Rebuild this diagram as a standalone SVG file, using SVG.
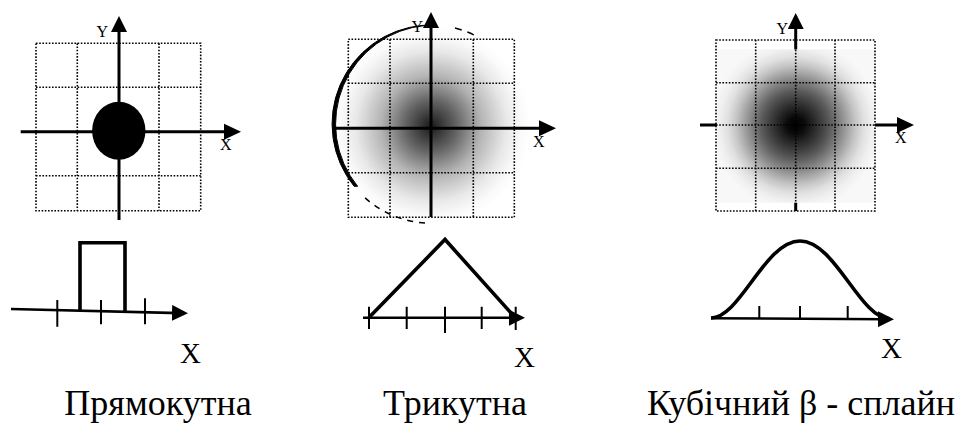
<svg xmlns="http://www.w3.org/2000/svg" width="968" height="423" viewBox="0 0 968 423">
  <style>
    .grid { stroke: #000; stroke-width: 1.6; stroke-dasharray: 1.6 1.6; fill: none; }
    .axis { stroke: #000; stroke-width: 3; fill: none; }
    .axisb { stroke: #000; stroke-width: 2.6; fill: none; }
    .tick { stroke: #000; stroke-width: 2; }
    .curve { stroke: #000; stroke-width: 3.6; fill: none; stroke-linejoin: miter; }
    text { font-family: "Liberation Serif", "Times New Roman", "DejaVu Serif", serif; fill: #000; }
    .small { font-size: 16px; }
    .xbig { font-size: 29px; }
    .cap { font-size: 36px; text-anchor: middle; }
  </style>
  <defs>
    <marker id="arr" markerUnits="userSpaceOnUse" markerWidth="17" markerHeight="17" refX="8" refY="8" orient="auto" viewBox="0 0 17 16">
      <path d="M0,0 L17,8 L0,16 z" fill="#000"/>
    </marker>
    <marker id="arrs" markerUnits="userSpaceOnUse" markerWidth="16" markerHeight="16" refX="8" refY="8" orient="auto" viewBox="0 0 16 16">
      <path d="M0,0 L16,8 L0,16 z" fill="#000"/>
    </marker>
    <radialGradient id="gTri" cx="431" cy="126" r="100" gradientUnits="userSpaceOnUse">
      <stop offset="0" stop-color="#1a1a1a"/>
      <stop offset="0.25" stop-color="#626262"/>
      <stop offset="0.5" stop-color="#b4b4b4"/>
      <stop offset="0.75" stop-color="#e8e8e8"/>
      <stop offset="0.9" stop-color="#fafafa"/>
      <stop offset="1" stop-color="#ffffff"/>
    </radialGradient>
    <radialGradient id="gBsp" cx="795.7" cy="125" r="85" gradientUnits="userSpaceOnUse">
      <stop offset="0" stop-color="#000"/>
      <stop offset="0.1" stop-color="#0a0a0a"/>
      <stop offset="0.2" stop-color="#242424"/>
      <stop offset="0.3" stop-color="#3e3e3e"/>
      <stop offset="0.4" stop-color="#5a5a5a"/>
      <stop offset="0.5" stop-color="#7c7c7c"/>
      <stop offset="0.6" stop-color="#a0a0a0"/>
      <stop offset="0.7" stop-color="#c4c4c4"/>
      <stop offset="0.8" stop-color="#e0e0e0"/>
      <stop offset="0.9" stop-color="#f0f0f0"/>
      <stop offset="1" stop-color="#f8f8f8"/>
    </radialGradient>
  </defs>
  <rect x="0" y="0" width="968" height="423" fill="#fff"/>

  <!-- Panel 1: rectangular filter -->
  <g id="rect-filter-2d">
    <rect class="grid" x="36" y="43.3" width="164.7" height="167.4"/>
    <path class="grid" d="M77.3,43.3 V210.7 M159,43.3 V210.7 M36,87.3 H200.7 M36,175.7 H200.7"/>
    <line class="axis" x1="20.7" y1="131.7" x2="232" y2="131.7" marker-end="url(#arr)"/>
    <line class="axis" x1="119" y1="220" x2="119" y2="24" marker-end="url(#arrs)"/>
    <ellipse cx="118.8" cy="130.8" rx="26.7" ry="29" fill="#000"/>
    <text class="small" x="96.5" y="36.5">Y</text>
    <text class="small" x="220" y="150">X</text>
  </g>
  <g id="rect-filter-1d">
    <line class="axisb" x1="11" y1="309" x2="180" y2="313.1" marker-end="url(#arrs)"/>
    <path class="tick" d="M57.3,300 V326.7 M101,300 V324.3 M145,298.3 V324.3"/>
    <polyline class="curve" points="80,311 80,242.7 125,242.7 125,311.8"/>
    <text class="xbig" x="180" y="363.3">X</text>
    <text class="cap" x="158" y="415">Прямокутна</text>
  </g>

  <!-- Panel 2: triangular filter -->
  <g id="tri-filter-2d">
    <circle cx="431" cy="124" r="99" fill="url(#gTri)"/>
    <path d="M422.4,25.4 A99,99 0 0 0 354.1,186.3 L357.6,186.3 A99,99 0 0 1 425.9,25.4 Z" fill="#000" stroke="#000" stroke-width="1"/>
    <path d="M455,28 A99,99 0 0 1 478,37" fill="none" stroke="#000" stroke-width="1.5" stroke-dasharray="7 6"/>
    <path d="M425,223 A99,99 0 0 1 362,195" fill="none" stroke="#000" stroke-width="1.5" stroke-dasharray="6 6"/>
    <rect class="grid" x="348.3" y="39.3" width="166" height="178"/>
    <path class="grid" d="M390,39.3 V217.3 M473.3,39.3 V217.3 M348.3,83.3 H514.3 M348.3,172.7 H514.3"/>
    <line class="axis" x1="332.7" y1="128.3" x2="547" y2="128.3" marker-end="url(#arr)"/>
    <line class="axis" x1="431" y1="217" x2="431" y2="20" marker-end="url(#arrs)"/>
    <text class="small" x="411.5" y="31.7">Y</text>
    <text class="small" x="533" y="146.7">X</text>
  </g>
  <g id="tri-filter-1d">
    <line class="axisb" x1="363" y1="317.7" x2="517" y2="317.7" marker-end="url(#arrs)"/>
    <path class="tick" d="M369,306.7 V329 M406.7,306.7 V329 M445,306.7 V333 M481.7,306.7 V329 M515.7,306.7 V330"/>
    <polyline class="curve" points="369,317.5 445,239.5 515,317.5"/>
    <text class="xbig" x="514" y="366.7">X</text>
    <text class="cap" x="455" y="415">Трикутна</text>
  </g>

  <!-- Panel 3: cubic B-spline filter -->
  <g id="bspline-filter-2d">
    <line class="axis" x1="700" y1="125" x2="905" y2="125" marker-end="url(#arr)"/>
    <line class="axis" x1="795.7" y1="211" x2="795.7" y2="21" marker-end="url(#arrs)"/>
    <rect x="716.7" y="49.3" width="158.3" height="153.4" fill="url(#gBsp)"/>
    <rect class="grid" x="716" y="40" width="159" height="171"/>
    <path class="grid" d="M755.7,40 V211 M795.7,40 V211 M835,40 V211 M716,82.7 H875 M716,125 H875 M716,168.3 H875"/>
    <text class="small" x="776.5" y="34">Y</text>
    <text class="small" x="895" y="143.3">X</text>
  </g>
  <g id="bspline-filter-1d">
    <line class="axisb" x1="711" y1="318.3" x2="886" y2="319.2" marker-end="url(#arrs)"/>
    <path class="tick" d="M759.3,306 V318.5 M800,306 V318.7 M847.7,306 V319"/>
    <path class="curve" d="M711,318 C740,318 765,241 800,241 C835,241 860,318 889,318.5"/>
    <text class="xbig" x="881" y="358.3">X</text>
    <text class="cap" x="801" y="415">Кубічний β - сплайн</text>
  </g>
</svg>
